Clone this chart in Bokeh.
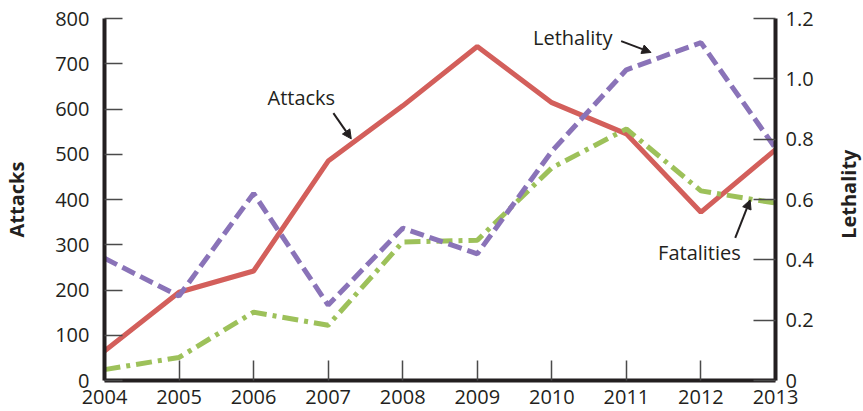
import math
from bokeh.plotting import figure
from bokeh.layouts import row
from bokeh.models import (LinearAxis, Range1d, FixedTicker, CustomJSTickFormatter,
                          Arrow, NormalHead, Label)
from bokeh.embed import file_html
from bokeh.resources import INLINE

years = [2004, 2005, 2006, 2007, 2008, 2009, 2010, 2011, 2012, 2013]
attacks = [65, 195, 242, 485, 607, 738, 614, 545, 372, 510]
fatalities = [24, 51, 151, 122, 306, 310, 470, 556, 419, 392]
lethality = [0.405, 0.28, 0.62, 0.25, 0.505, 0.42, 0.76, 1.03, 1.12, 0.77]

left_ticks = [0, 100, 200, 300, 400, 500, 600, 700, 800]
right_ticks = [0, 0.2, 0.4, 0.6, 0.8, 1.0, 1.2]

FONT = "Open Sans"
TXT = "#231f20"
RED = "#d35f5b"
PURPLE = "#8a73b8"
GREEN = "#9dc15a"

H = 410
p = figure(width=820, height=H, output_backend="svg", toolbar_location=None,
           x_range=Range1d(2004, 2013), y_range=Range1d(0, 800),
           min_border_left=103, min_border_right=45, min_border_top=18,
           min_border_bottom=H - 380)
p.extra_y_ranges = {"leth": Range1d(0, 1.2)}
p.outline_line_color = None
p.grid.visible = False

p.line(years, attacks, line_color=RED, line_width=5)
p.line(years, fatalities, line_color=GREEN, line_width=5, line_dash="16 6 4 6")
p.line(years, lethality, y_range_name="leth", line_color=PURPLE, line_width=5,
       line_dash="14 6")

def style(ax, tick_in):
    ax.axis_line_width = 4
    ax.axis_line_color = TXT
    ax.major_tick_in = tick_in
    ax.major_tick_out = 0
    ax.minor_tick_in = 0
    ax.minor_tick_out = 0
    ax.major_tick_line_color = "#4a4a4a"
    ax.major_tick_line_width = 1.5
    ax.major_label_text_font = FONT
    ax.major_label_text_font_size = "20px"
    ax.major_label_text_color = TXT
    ax.axis_label_text_font = FONT
    ax.axis_label_text_font_size = "20px"
    ax.axis_label_text_font_style = "bold"
    ax.axis_label_text_color = TXT

xa = p.xaxis[0]
xa.ticker = FixedTicker(ticks=years)
style(xa, 20)
xa.major_label_standoff = 9

ya = p.yaxis[0]
ya.ticker = FixedTicker(ticks=left_ticks)
style(ya, 18)
ya.major_label_standoff = 15
ya.axis_label = "Attacks"
ya.axis_label_standoff = 22

ra = LinearAxis(y_range_name="leth")
ra.ticker = FixedTicker(ticks=right_ticks)
ra.formatter = CustomJSTickFormatter(code="return tick == 0 ? '0' : tick.toFixed(1);")
style(ra, 22)
ra.major_label_standoff = 10
p.add_layout(ra, "right")

def annot(text, tx, ty, x0, y0, x1, y1):
    p.add_layout(Label(x=tx, y=ty, text=text, text_font=FONT, text_font_size="20px",
                       text_color=TXT, text_align="center", text_baseline="middle"))
    p.add_layout(Arrow(x_start=x0, y_start=y0, x_end=x1, y_end=y1,
                       line_color=TXT, line_width=2,
                       end=NormalHead(size=9, fill_color=TXT, line_color=TXT)))

annot("Attacks", 2006.64, 625, 2007.07, 591, 2007.31, 534)
annot("Lethality", 2010.28, 758, 2010.93, 750, 2011.33, 725)
annot("Fatalities", 2011.98, 282, 2012.46, 315, 2012.66, 399)

# right-hand axis title, reading bottom to top
p2 = figure(width=43, height=H, output_backend="svg", toolbar_location=None,
            x_range=Range1d(0, 43), y_range=Range1d(0, H),
            min_border=0)
p2.axis.visible = False
p2.grid.visible = False
p2.outline_line_color = None
p2.add_layout(Label(x=28, y=H - 199, text="Lethality", angle=math.pi / 2,
                    text_font=FONT, text_font_size="20px", text_font_style="bold",
                    text_color=TXT, text_align="center", text_baseline="middle"))

open("out.html", "w").write(file_html(row(p, p2), INLINE))
